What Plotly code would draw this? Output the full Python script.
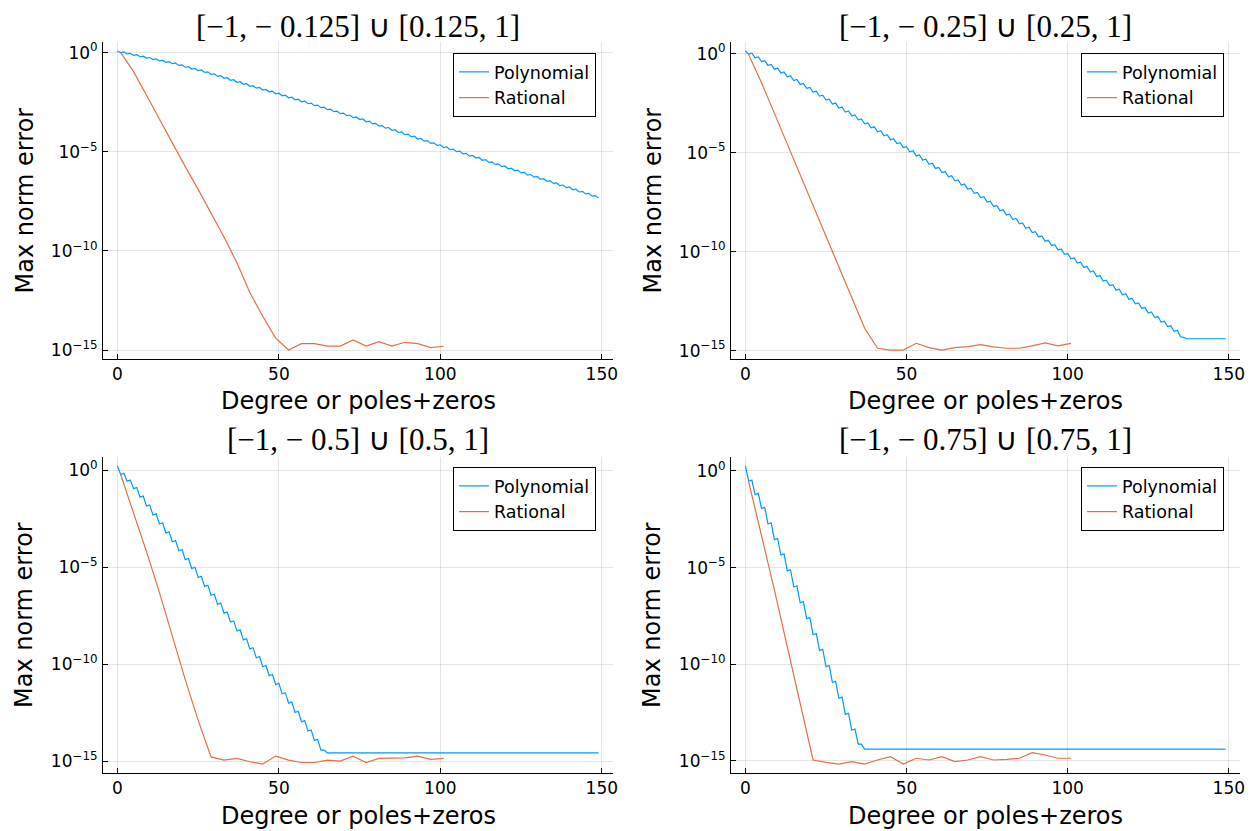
import plotly.graph_objects as go

# ---------------- data (log10 of max-norm error) ----------------
degrees = list(range(150))            # polynomial degree 0..149
rat_x = [1, 5, 9, 13, 17, 21, 25, 29, 33, 37, 41, 45, 49, 53, 57, 61, 65, 69, 73, 77,
         81, 85, 89, 93, 97, 101]     # poles+zeros of rational approximants

titles = ["[−1, − 0.125] ∪ [0.125, 1]", "[−1, − 0.25] ∪ [0.25, 1]",
          "[−1, − 0.5] ∪ [0.5, 1]", "[−1, − 0.75] ∪ [0.75, 1]"]

poly_log_0125 = [
    0.08, 0.00, 0.03, -0.07, -0.04, -0.14, -0.11, -0.21, -0.18, -0.28, -0.25,
    -0.35, -0.32, -0.42, -0.39, -0.49, -0.46, -0.56, -0.53, -0.65, -0.62,
    -0.74, -0.71, -0.83, -0.80, -0.91, -0.88, -1.00, -0.97, -1.10, -1.07,
    -1.20, -1.17, -1.30, -1.27, -1.40, -1.37, -1.50, -1.47, -1.60, -1.57,
    -1.70, -1.67, -1.79, -1.76, -1.89, -1.86, -1.98, -1.95, -2.08, -2.05,
    -2.18, -2.15, -2.28, -2.25, -2.38, -2.35, -2.48, -2.45, -2.58, -2.55,
    -2.68, -2.65, -2.78, -2.75, -2.88, -2.85, -2.98, -2.95, -3.08, -3.05,
    -3.18, -3.15, -3.28, -3.25, -3.38, -3.35, -3.49, -3.46, -3.60, -3.57,
    -3.71, -3.68, -3.81, -3.78, -3.92, -3.89, -4.03, -4.00, -4.14, -4.11,
    -4.25, -4.22, -4.36, -4.33, -4.47, -4.44, -4.58, -4.55, -4.68, -4.65,
    -4.79, -4.76, -4.90, -4.87, -5.00, -4.97, -5.11, -5.08, -5.22, -5.19,
    -5.32, -5.29, -5.43, -5.40, -5.54, -5.51, -5.64, -5.61, -5.75, -5.72,
    -5.86, -5.83, -5.96, -5.93, -6.07, -6.04, -6.18, -6.15, -6.28, -6.25,
    -6.39, -6.36, -6.49, -6.46, -6.60, -6.57, -6.71, -6.68, -6.81, -6.78,
    -6.92, -6.89, -7.03, -7.00, -7.13, -7.10, -7.24, -7.21, -7.34]

poly_log_025 = [
    0.13, -0.03, 0.02, -0.22, -0.17, -0.41, -0.36, -0.60, -0.55, -0.79, -0.74,
    -0.98, -0.93, -1.17, -1.12, -1.36, -1.31, -1.56, -1.51, -1.76, -1.71,
    -1.95, -1.90, -2.15, -2.10, -2.35, -2.30, -2.55, -2.50, -2.75, -2.70,
    -2.95, -2.90, -3.15, -3.10, -3.35, -3.30, -3.55, -3.50, -3.75, -3.70,
    -3.95, -3.90, -4.15, -4.10, -4.35, -4.30, -4.55, -4.50, -4.75, -4.70,
    -4.96, -4.91, -5.17, -5.12, -5.38, -5.33, -5.59, -5.54, -5.80, -5.75,
    -6.01, -5.96, -6.22, -6.17, -6.43, -6.38, -6.64, -6.59, -6.85, -6.80,
    -7.06, -7.01, -7.28, -7.23, -7.50, -7.45, -7.72, -7.67, -7.94, -7.89,
    -8.16, -8.11, -8.38, -8.33, -8.60, -8.55, -8.82, -8.77, -9.04, -8.99,
    -9.26, -9.21, -9.48, -9.43, -9.70, -9.65, -9.92, -9.87, -10.14, -10.09,
    -10.36, -10.31, -10.58, -10.53, -10.80, -10.75, -11.03, -10.98, -11.26, -11.21,
    -11.49, -11.44, -11.72, -11.67, -11.95, -11.90, -12.18, -12.13, -12.41, -12.36,
    -12.64, -12.59, -12.87, -12.82, -13.10, -13.05, -13.33, -13.28, -13.56, -13.51,
    -13.79, -13.74, -14.02, -13.97, -14.30, -14.33] + [-14.40] * 13

poly_log_05 = [
    0.22, -0.22, -0.16, -0.57, -0.51, -0.95, -0.89, -1.39, -1.33, -1.85, -1.79,
    -2.31, -2.25, -2.77, -2.71, -3.23, -3.17, -3.69, -3.63, -4.15, -4.09,
    -4.61, -4.55, -5.07, -5.01, -5.53, -5.47, -5.99, -5.93, -6.45, -6.39,
    -6.91, -6.85, -7.37, -7.31, -7.83, -7.77, -8.29, -8.23, -8.75, -8.69,
    -9.21, -9.15, -9.67, -9.61, -10.13, -10.07, -10.59, -10.53, -11.05, -10.99,
    -11.53, -11.47, -12.01, -11.95, -12.49, -12.43, -12.97, -12.91, -13.45, -13.39,
    -13.93, -13.87, -14.43, -14.43] + [-14.57] * 85

poly_log_075 = [
    0.26, -0.53, -0.47, -1.22, -1.16, -1.94, -1.88, -2.74, -2.68, -3.55, -3.49,
    -4.35, -4.29, -5.17, -5.11, -6.00, -5.94, -6.82, -6.76, -7.64, -7.58,
    -8.47, -8.41, -9.29, -9.23, -10.12, -10.06, -10.94, -10.88, -11.76, -11.70,
    -12.59, -12.53, -13.41, -13.35, -14.13, -14.13] + [-14.39] * 113

rat_log_0125 = [0.00, -0.96, -2.15, -3.35, -4.60, -5.75, -6.90, -8.10, -9.30, -10.60,
                -12.10, -13.30, -14.40, -15.00, -14.68, -14.68, -14.80, -14.80, -14.49,
                -14.80, -14.58, -14.80, -14.61, -14.68, -14.88, -14.81]
rat_log_025 = [-0.05, -1.47, -3.02, -4.57, -6.12, -7.67, -9.22, -10.77, -12.32, -13.87,
               -14.88, -14.97, -14.97, -14.63, -14.85, -14.97, -14.85, -14.80, -14.70,
               -14.81, -14.88, -14.88, -14.76, -14.61, -14.76, -14.63]
rat_log_05 = [-0.22, -2.20, -4.20, -6.30, -8.60, -10.80, -12.90, -14.78, -14.95, -14.86,
              -15.03, -15.15, -14.74, -14.95, -15.07, -15.07, -14.95, -15.00, -14.74,
              -15.07, -14.86, -14.86, -14.83, -14.74, -14.91, -14.86]
rat_log_075 = [-0.55, -3.30, -6.15, -9.10, -12.00, -14.95, -15.07, -15.16, -15.03, -15.16,
               -14.95, -14.78, -15.16, -14.86, -14.95, -14.78, -15.03, -14.95, -14.78,
               -14.95, -14.92, -14.86, -14.57, -14.69, -14.86, -14.86]

poly_sets = [poly_log_0125, poly_log_025, poly_log_05, poly_log_075]
rat_sets = [rat_log_0125, rat_log_025, rat_log_05, rat_log_075]

y_tickvals = [1e0, 1e-5, 1e-10, 1e-15]
y_ticktext = ["10<sup>0</sup>", "10<sup>−5</sup>", "10<sup>−10</sup>", "10<sup>−15</sup>"]
x_tickvals = [0, 50, 100, 150]

# ---------------- style / layout ----------------
OFF = 8                       # page body margin of the browser
W, H = 1258 - OFF, 831 - OFF  # figure size so the page fits the window
BLUE, ORANGE = "#009AFA", "#E26F46"
SANS = "DejaVu Sans"
SERIF = "Liberation Serif"


def px(X):
    return (X - OFF) / W


def py(Y):
    return 1 - (Y - OFF) / H


# plot-area boxes in window pixels (left, right, top, bottom)
boxes = [(103, 613, 42, 359), (731, 1240, 42, 359),
         (103, 613, 457, 773), (731, 1240, 457, 773)]
legend_tr = [(596, 53), (1224, 53), (596, 467), (1224, 467)]
title_y = [26, 26, 439, 439]
xlabel_y = [401, 401, 816, 816]

fig = go.Figure()
layout = dict(width=W, height=H, margin=dict(l=0, r=0, t=0, b=0),
              paper_bgcolor="white", plot_bgcolor="white", template="none",
              font=dict(family=SANS, size=17, color="black"), annotations=[])

for i in range(4):
    n = i + 1
    sfx = "" if n == 1 else str(n)
    L, R, T, B = boxes[i]
    poly = [10 ** v for v in poly_sets[i]]
    rat = [10 ** v for v in rat_sets[i]]
    leg = "legend" + sfx
    fig.add_trace(go.Scatter(x=degrees, y=poly, mode="lines", name="Polynomial",
                             line=dict(color=BLUE, width=1.2),
                             xaxis="x" + sfx, yaxis="y" + sfx, legend=leg))
    fig.add_trace(go.Scatter(x=rat_x, y=rat, mode="lines", name="Rational",
                             line=dict(color=ORANGE, width=1.2),
                             xaxis="x" + sfx, yaxis="y" + sfx, legend=leg))

    # axis limits widened by 3% like the original plotting library
    xmin, xmax = min(degrees), max(degrees)
    xpad = 0.03 * (xmax - xmin)
    allv = poly_sets[i] + rat_sets[i]
    ymin, ymax = min(allv), max(allv)
    ypad = 0.03 * (ymax - ymin)

    axis_common = dict(showline=True, linecolor="black", linewidth=1,
                       ticks="inside", ticklen=5, tickcolor="black", tickwidth=1,
                       showgrid=True, gridcolor="rgba(0,0,0,0.1)", gridwidth=1,
                       zeroline=False, tickfont=dict(family=SANS, size=17),
                       automargin=False)
    layout["xaxis" + sfx] = dict(axis_common, domain=[px(L), px(R)],
                                 anchor="y" + sfx, range=[xmin - xpad, xmax + xpad],
                                 tickvals=x_tickvals, ticktext=[str(v) for v in x_tickvals])
    layout["yaxis" + sfx] = dict(axis_common, domain=[py(B), py(T)],
                                 anchor="x" + sfx, type="log",
                                 range=[ymin - ypad, ymax + ypad],
                                 tickvals=y_tickvals, ticktext=y_ticktext,
                                 ticklabelstandoff=1)
    lx, ly = legend_tr[i]
    layout[leg] = dict(x=px(lx), y=py(ly), xanchor="right", yanchor="top",
                       xref="paper", yref="paper",
                       bgcolor="white", bordercolor="black", borderwidth=1,
                       font=dict(family=SANS, size=17.5), tracegroupgap=0)

    cx = px((L + R) / 2)
    layout["annotations"].append(dict(text=titles[i], x=cx, y=py(title_y[i]),
                                      xref="paper", yref="paper", showarrow=False,
                                      xanchor="center", yanchor="middle",
                                      font=dict(family=SERIF, size=31, color="black")))
    layout["annotations"].append(dict(text="Degree or poles+zeros", x=cx,
                                      y=py(xlabel_y[i]), xref="paper", yref="paper",
                                      showarrow=False, xanchor="center", yanchor="middle",
                                      font=dict(family=SANS, size=24, color="black")))
    layout["annotations"].append(dict(text="Max norm error", x=px(L - 79),
                                      y=py((T + B) / 2), xref="paper", yref="paper",
                                      showarrow=False, textangle=-90,
                                      xanchor="center", yanchor="middle",
                                      font=dict(family=SANS, size=24, color="black")))

fig.update_layout(**layout)
fig.write_html("out.html")
